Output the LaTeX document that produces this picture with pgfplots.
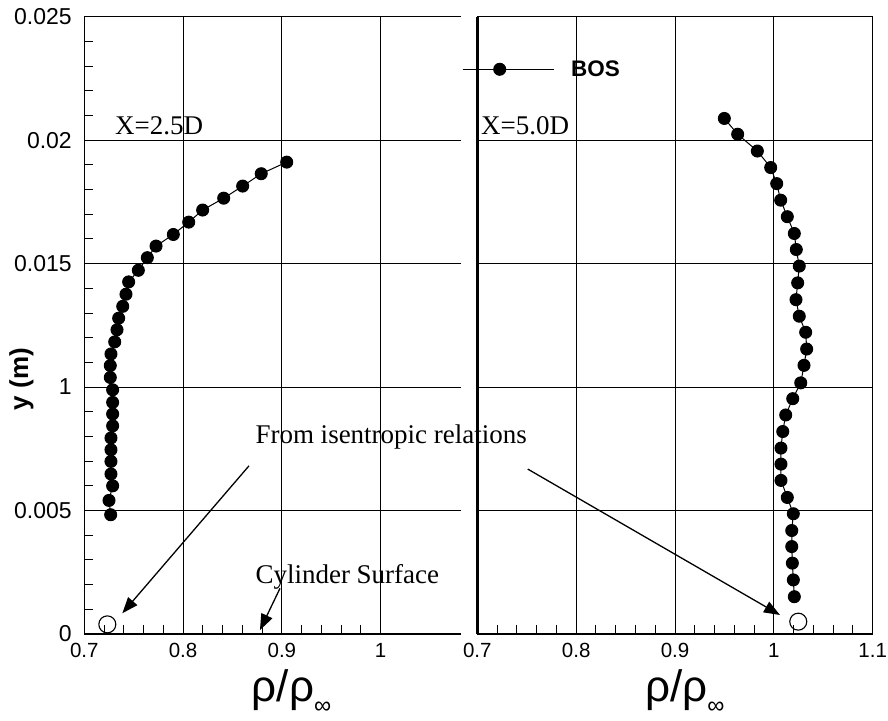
\documentclass[border=0pt]{standalone}
\usepackage{pgfplots}
\usepackage{pgfplotstable}
\pgfplotsset{compat=1.18}
\usepackage{fontspec}
\setmainfont{Liberation Sans}
\newfontfamily\tnr{Liberation Serif}
\usetikzlibrary{arrows.meta}

% rho/rho_inf against y, BOS measurements
\pgfplotstableread{
x y
0.9049 0.01911
0.8791 0.01864
0.8603 0.01814
0.8411 0.01765
0.8198 0.01717
0.8057 0.01668
0.7901 0.01618
0.7726 0.01571
0.7638 0.01524
0.7547 0.01473
0.7449 0.01426
0.7422 0.01376
0.7389 0.01327
0.7348 0.01279
0.7331 0.01232
0.7308 0.01183
0.7270 0.01134
0.7263 0.01087
0.7263 0.01039
0.7287 0.00989
0.7287 0.00938
0.7287 0.00891
0.7287 0.00843
0.7270 0.00794
0.7270 0.00746
0.7270 0.00699
0.7270 0.00648
0.7287 0.00600
0.7250 0.00541
0.7267 0.00483
}\leftdata

\pgfplotstableread{
x y
0.9499 0.02088
0.9634 0.02024
0.9833 0.01956
0.9968 0.01889
1.0029 0.01824
1.0069 0.01757
1.0136 0.01690
1.0207 0.01622
1.0227 0.01557
1.0257 0.01490
1.0241 0.01422
1.0224 0.01354
1.0257 0.01287
1.0322 0.01222
1.0332 0.01154
1.0305 0.01088
1.0272 0.01017
1.0191 0.00953
1.0120 0.00887
1.0090 0.00820
1.0072 0.00753
1.0072 0.00688
1.0072 0.00622
1.0136 0.00553
1.0197 0.00487
1.0181 0.00419
1.0181 0.00354
1.0187 0.00287
1.0197 0.00219
1.0207 0.00151
}\rightdata

\pgfplotsset{
  panel/.style={
    scale only axis, height=617.3pt, ymin=0, ymax=0.025,
    tick align=inside, major tick length=10pt, minor tick length=9pt,
    grid=major, grid style={black, line width=0.9pt},
    axis line style={black, line width=1.2pt, -},
    tick style={black, line width=0.9pt},
    minor x tick num=4,
    xticklabel style={font=\fontsize{20.5}{20.5}\selectfont, yshift=-6pt},
    ytick={0,0.005,0.01,0.015,0.02,0.025},
    scaled x ticks=false, scaled y ticks=false,
    clip=false,
    xlabel style={anchor=north west, inner sep=0pt, yshift=-35pt,
      font=\fontsize{44}{44}\selectfont},
  },
  bos/.style={black, line width=1pt, mark=*, mark size=6pt,
    mark options={solid, fill=black}},
  isen/.style={only marks, mark=o, mark size=8.5pt,
    mark options={black, line width=1.1pt}},
}
\tikzset{
  ann/.style={anchor=base west, inner sep=0pt, font=\tnr\fontsize{27}{27}\selectfont},
  arr/.style={black, line width=1.3pt, -{Triangle[length=16pt,width=12pt]}},
}

\begin{document}
\begin{tikzpicture}
\useasboundingbox (0,0) rectangle (888pt,720pt);

% X = 2.5D
\begin{axis}[panel, at={(84.3pt,86pt)}, anchor=south west,
  width=376.7pt, xmin=0.7, xmax=1.0813,
  axis x line*=box, axis y line*=left, xtick pos=bottom, ytick pos=left,
  x axis line style={-}, y axis line style={-},
  xtick={0.7,0.8,0.9,1}, xticklabels={0.7,0.8,0.9,1},
  yticklabels={0,0.005,1,0.015,0.02,0.025}, minor y tick num=4,
  yticklabel style={font=\fontsize{23}{23}\selectfont, xshift=-9pt},
  ylabel={y (m)},
  ylabel style={at={(rel axis cs:-0.1667,0.413)}, anchor=center,
    font=\bfseries\fontsize{26}{26}\selectfont},
  xlabel={ρ/ρ\raisebox{-12pt}{\fontsize{24}{24}\selectfont ∞}},
  xlabel style={at={(rel axis cs:0.4444,0)}},
]
\addplot[bos] table {\leftdata};
\addplot[isen] coordinates {(0.7233,0.00039)};
\node[ann] at (axis cs:0.7311,0.02024) {X=2.5D};
\node[ann] at (axis cs:0.8731,0.00773) {From isentropic relations};
\node[ann] at (axis cs:0.8731,0.00203) {Cylinder Surface};
\draw[arr] (axis cs:0.8667,0.00681) -- (axis cs:0.7385,0.00084);
\draw[arr] (axis cs:0.8981,0.00185) -- (axis cs:0.8778,0.00016);
\end{axis}

% X = 5.0D
\begin{axis}[panel, at={(477.3pt,86pt)}, anchor=south west,
  width=395.4pt, xmin=0.7, xmax=1.1,
  xtick pos=bottom,
  xtick={0.7,0.8,0.9,1,1.1}, xticklabels={0.7,0.8,0.9,1,1.1},
  yticklabels={}, ytick style={draw=none},
  xlabel={ρ/ρ\raisebox{-12pt}{\fontsize{24}{24}\selectfont ∞}},
  xlabel style={at={(rel axis cs:0.4241,0)}},
  legend style={at={(rel axis cs:-0.0387,0.9148)}, anchor=west,
    draw=none, fill=none, inner sep=0pt, column sep=15pt,
    font=\bfseries\fontsize{22.5}{22.5}\selectfont},
  legend image code/.code={
    \draw[#1] (0pt,0pt) -- (91pt,0pt);
    \draw[#1] plot coordinates {(37pt,0pt)};
  },
]
\addplot[bos] table {\rightdata};
\addlegendentry{BOS}
\addplot[isen, forget plot] coordinates {(1.0247,0.0005)};
\draw[black, line width=3pt] (rel axis cs:0,0) -- (rel axis cs:0,1);
\node[ann] at (axis cs:0.7037,0.02024) {X=5.0D};
\draw[arr] (axis cs:0.7510,0.00668) -- (axis cs:1.0062,0.00077);
\end{axis}
\end{tikzpicture}
\end{document}
